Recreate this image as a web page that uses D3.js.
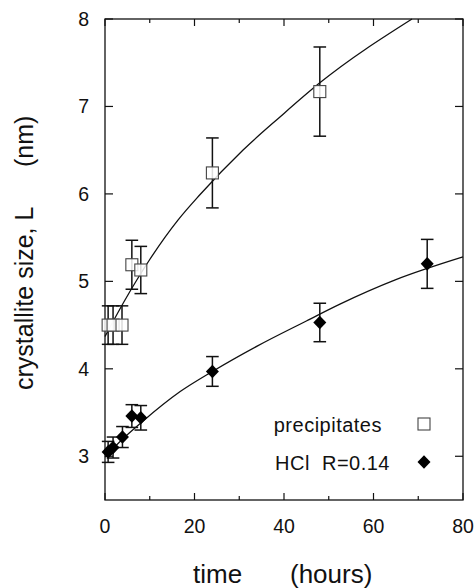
<!DOCTYPE html>
<html>
<head>
<meta charset="utf-8">
<script src="https://cdn.jsdelivr.net/npm/d3@7"></script>
<style>
  body { margin: 0; background: #fff; }
  text { font-family: 'Liberation Sans', Arial, Helvetica, sans-serif; fill: #111; }
</style>
</head>
<body>
<div id="graf"></div>
<script>
// valores
const precipT = [0.7, 1.8, 3.8, 6, 8, 24, 48]
const precipL = [4.5, 4.5, 4.5, 5.19, 5.13, 6.24, 7.17]
const precipErr = [0.22, 0.22, 0.22, 0.28, 0.27, 0.4, 0.51]

const hclT = [0.7, 1.8, 3.9, 6, 8, 24, 48, 72]
const hclL = [3.05, 3.1, 3.22, 3.46, 3.44, 3.97, 4.53, 5.2]
const hclErr = [0.12, 0.12, 0.12, 0.13, 0.14, 0.17, 0.22, 0.28]

const precipFitT = [0, 4.5, 10, 16.3, 21.2, 30.8, 39.1, 48, 68.6]
const precipFitL = [4.37, 4.79, 5.25, 5.7, 5.99, 6.5, 6.88, 7.27, 8.0]

const hclFitT = [0, 4, 8.2, 16.8, 24, 34, 45.1, 52.5, 65, 80]
const hclFitL = [2.99, 3.2, 3.39, 3.74, 3.97, 4.26, 4.55, 4.74, 5.02, 5.28]

const xMajor = [0, 20, 40, 60, 80]
const xMinor = [10, 30, 50, 70]
const yMajor = [3, 4, 5, 6, 7, 8]

const anchoTotal = 476
const altoTotal = 588

const svg = d3
  .select('#graf')
  .append('svg')
  .attr('width', anchoTotal)
  .attr('height', altoTotal)

const x = d3.scaleLinear().domain([0, 80]).range([105, 463])
const y = d3.scaleLinear().domain([2.5, 8]).range([500, 19])

const zip = (a, b, c) => a.map((v, i) => ({ t: v, L: b[i], e: c ? c[i] : 0 }))
const precip = zip(precipT, precipL, precipErr)
const hcl = zip(hclT, hclL, hclErr)

// marco
svg.append('rect')
  .attr('x', x(0))
  .attr('y', y(8))
  .attr('width', x(80) - x(0))
  .attr('height', y(2.5) - y(8))
  .attr('fill', 'none')
  .attr('stroke', '#111')
  .attr('stroke-width', 1.3)

const ejes = svg.append('g').attr('stroke', '#111').attr('stroke-width', 1.2)

// ticks hacia adentro
const tickX = (vals, len) => {
  ejes.selectAll(null).data(vals).enter().append('line')
    .attr('x1', (d) => x(d)).attr('x2', (d) => x(d))
    .attr('y1', y(2.5)).attr('y2', y(2.5) - len)
  ejes.selectAll(null).data(vals).enter().append('line')
    .attr('x1', (d) => x(d)).attr('x2', (d) => x(d))
    .attr('y1', y(8)).attr('y2', y(8) + len)
}
tickX(xMajor, 7)
tickX(xMinor, 4)

ejes.selectAll(null).data(yMajor).enter().append('line')
  .attr('x1', x(0)).attr('x2', x(0) + 8)
  .attr('y1', (d) => y(d)).attr('y2', (d) => y(d))
ejes.selectAll(null).data(yMajor).enter().append('line')
  .attr('x1', x(80)).attr('x2', x(80) - 8)
  .attr('y1', (d) => y(d)).attr('y2', (d) => y(d))

svg.selectAll(null).data(xMajor).enter().append('text')
  .attr('x', (d) => x(d))
  .attr('y', 533)
  .attr('text-anchor', 'middle')
  .attr('font-size', 19.5)
  .text((d) => d)

svg.selectAll(null).data(yMajor).enter().append('text')
  .attr('x', 89)
  .attr('y', (d) => y(d) + 7)
  .attr('text-anchor', 'end')
  .attr('font-size', 19.5)
  .text((d) => d)

// titulos
svg.append('text')
  .attr('x', 193).attr('y', 583)
  .attr('font-size', 26)
  .text('time')
svg.append('text')
  .attr('x', 290).attr('y', 583)
  .attr('font-size', 26)
  .text('(hours)')

svg.append('text')
  .attr('transform', 'translate(33, 390) rotate(-90)')
  .attr('font-size', 25)
  .text('crystallite size, L')
svg.append('text')
  .attr('transform', 'translate(33, 167) rotate(-90)')
  .attr('font-size', 25)
  .text('(nm)')

// curvas de ajuste
const linea = d3.line()
  .x((d) => x(d.t))
  .y((d) => y(d.L))
  .curve(d3.curveMonotoneX)

svg.append('path')
  .datum(zip(precipFitT, precipFitL))
  .attr('d', linea)
  .attr('fill', 'none')
  .attr('stroke', '#111')
  .attr('stroke-width', 1.3)

svg.append('path')
  .datum(zip(hclFitT, hclFitL))
  .attr('d', linea)
  .attr('fill', 'none')
  .attr('stroke', '#111')
  .attr('stroke-width', 1.3)

// barras de error
const cap = 6.3
function barras(datos) {
  const g = svg.append('g').attr('stroke', '#111').attr('stroke-width', 1.5)
  g.selectAll(null).data(datos).enter().append('line')
    .attr('x1', (d) => x(d.t)).attr('x2', (d) => x(d.t))
    .attr('y1', (d) => y(d.L - d.e)).attr('y2', (d) => y(d.L + d.e))
  g.selectAll(null).data(datos).enter().append('line')
    .attr('x1', (d) => x(d.t) - cap).attr('x2', (d) => x(d.t) + cap)
    .attr('y1', (d) => y(d.L + d.e)).attr('y2', (d) => y(d.L + d.e))
  g.selectAll(null).data(datos).enter().append('line')
    .attr('x1', (d) => x(d.t) - cap).attr('x2', (d) => x(d.t) + cap)
    .attr('y1', (d) => y(d.L - d.e)).attr('y2', (d) => y(d.L - d.e))
}
barras(precip)
barras(hcl)

const lado = 12
svg.selectAll('.cuadro').data(precip).enter().append('rect')
  .attr('class', 'cuadro')
  .attr('x', (d) => x(d.t) - lado / 2)
  .attr('y', (d) => y(d.L) - lado / 2)
  .attr('width', lado)
  .attr('height', lado)
  .attr('fill', '#fff')
  .attr('fill-opacity', 0.85)
  .attr('stroke', '#444')
  .attr('stroke-width', 1.1)

const rombo = (cx, cy) => `M${cx},${cy - 6.8}L${cx + 6.5},${cy}L${cx},${cy + 6.8}L${cx - 6.5},${cy}Z`
svg.selectAll('.rombo').data(hcl).enter().append('path')
  .attr('class', 'rombo')
  .attr('d', (d) => rombo(x(d.t), y(d.L)))
  .attr('fill', '#000')

// leyenda
svg.append('text')
  .attr('x', 382).attr('y', 432)
  .attr('text-anchor', 'end')
  .attr('font-size', 20)
  .attr('letter-spacing', 0.5)
  .text('precipitates')
svg.append('text')
  .attr('x', 390).attr('y', 470)
  .attr('text-anchor', 'end')
  .attr('font-size', 20)
  .attr('letter-spacing', 0.5)
  .text('HCl\u00a0\u00a0R=0.14')

svg.append('rect')
  .attr('x', 424 - 6).attr('y', 424 - 6)
  .attr('width', lado).attr('height', lado)
  .attr('fill', '#fff')
  .attr('stroke', '#444')
  .attr('stroke-width', 1.1)
svg.append('path')
  .attr('d', rombo(424, 462))
  .attr('fill', '#000')
</script>
</body>
</html>
